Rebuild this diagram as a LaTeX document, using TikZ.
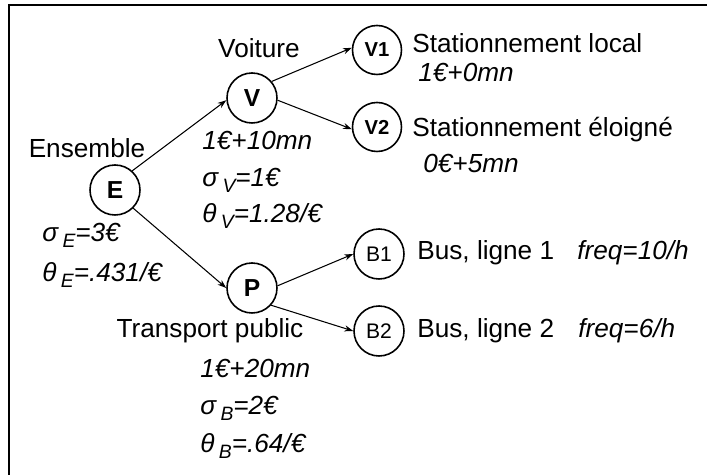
\documentclass[tikz,border=0pt]{standalone}
\usepackage{fontspec}
\setmainfont{Liberation Sans}
\usepackage{tikz}
\usetikzlibrary{arrows.meta}
\newcommand{\idx}[1]{\raisebox{-0.4ex}{\fontsize{11}{12}\selectfont #1}}

\begin{document}
\begin{tikzpicture}[
    choix/.style={circle, draw, line width=0.9pt, minimum size=1cm, inner sep=0pt, font=\fontsize{14}{15}\selectfont\bfseries},
    feuille/.style={circle, draw, line width=0.9pt, minimum size=0.98cm, inner sep=0pt, font=\fontsize{11.5}{12}\selectfont\bfseries},
    bus/.style={circle, draw, line width=0.9pt, minimum size=1cm, inner sep=0pt, font=\fontsize{12}{13}\selectfont},
    txt/.style={anchor=base west, inner sep=0pt, font=\fontsize{14.9}{17}\selectfont},
    val/.style={anchor=base west, inner sep=0pt, font=\fontsize{14.9}{17}\selectfont\itshape},
    fleche/.style={-{Stealth[length=5pt,width=3.5pt]}, line width=0.6pt}]
        \useasboundingbox (0,0) rectangle (14.14,9.5);
        \draw[line width=1.2pt] (0.18,0) -- (0.18,9.4) -- (14.14,9.4);
        % noeuds
        \node[choix] (E) at (2.30,5.70) {E};
        \node[choix] (V) at (5.04,7.54) {V};
        \node[choix] (P) at (5.04,3.74) {P};
        \node[feuille] (V1) at (7.54,8.50) {V1};
        \node[feuille] (V2) at (7.54,6.96) {V2};
        \node[bus] (B1) at (7.58,4.42) {B1};
        \node[bus] (B2) at (7.58,2.88) {B2};
        % arcs
        \draw[fleche] (E.48) -- (V.185);
        \draw[fleche] (E.-45) -- (P.west);
        \draw[fleche] (V.40) -- (V1.175);
        \draw[fleche] (V.-5) -- (V2.185);
        \draw[fleche] (P.5) -- (B1.180);
        \draw[fleche] (P.-42) -- (B2.180);
        % textes
        \node[txt, anchor=base] (tV) at (5.18,8.34) {Voiture};
        \node[txt, anchor=base] (tE) at (1.74,6.34) {Ensemble};
        \node[txt, anchor=base] (tP) at (4.20,2.74) {Transport public};
        \node[val] (cV) at (4.04,6.50) {1€+10mn};
        \node[val] (sV) at (4.04,5.76) {σ\,\idx{V}=1€};
        \node[val] (hV) at (4.04,5.04) {θ\,\idx{V}=1.28/€};
        \node[val] (sE) at (0.84,4.66) {σ\,\idx{E}=3€};
        \node[val] (hE) at (0.84,3.86) {θ\,\idx{E}=.431/€};
        \node[val] (cP) at (4.00,1.94) {1€+20mn};
        \node[val] (sB) at (4.00,1.20) {σ\,\idx{B}=2€};
        \node[val] (hB) at (4.00,0.44) {θ\,\idx{B}=.64/€};
        \node[txt] (tV1) at (8.24,8.44) {Stationnement local};
        \node[val] (cV1) at (8.36,7.86) {1€+0mn};
        \node[txt] (tV2) at (8.24,6.76) {Stationnement éloigné};
        \node[val] (cV2) at (8.46,6.04) {0€+5mn};
        \node[txt] (tB1) at (8.34,4.30) {Bus, ligne 1};
        \node[val] (fB1) at (11.54,4.30) {freq=10/h};
        \node[txt] (tB2) at (8.34,2.74) {Bus, ligne 2};
        \node[val] (fB2) at (11.56,2.74) {freq=6/h};
      \end{tikzpicture}
\end{document}
